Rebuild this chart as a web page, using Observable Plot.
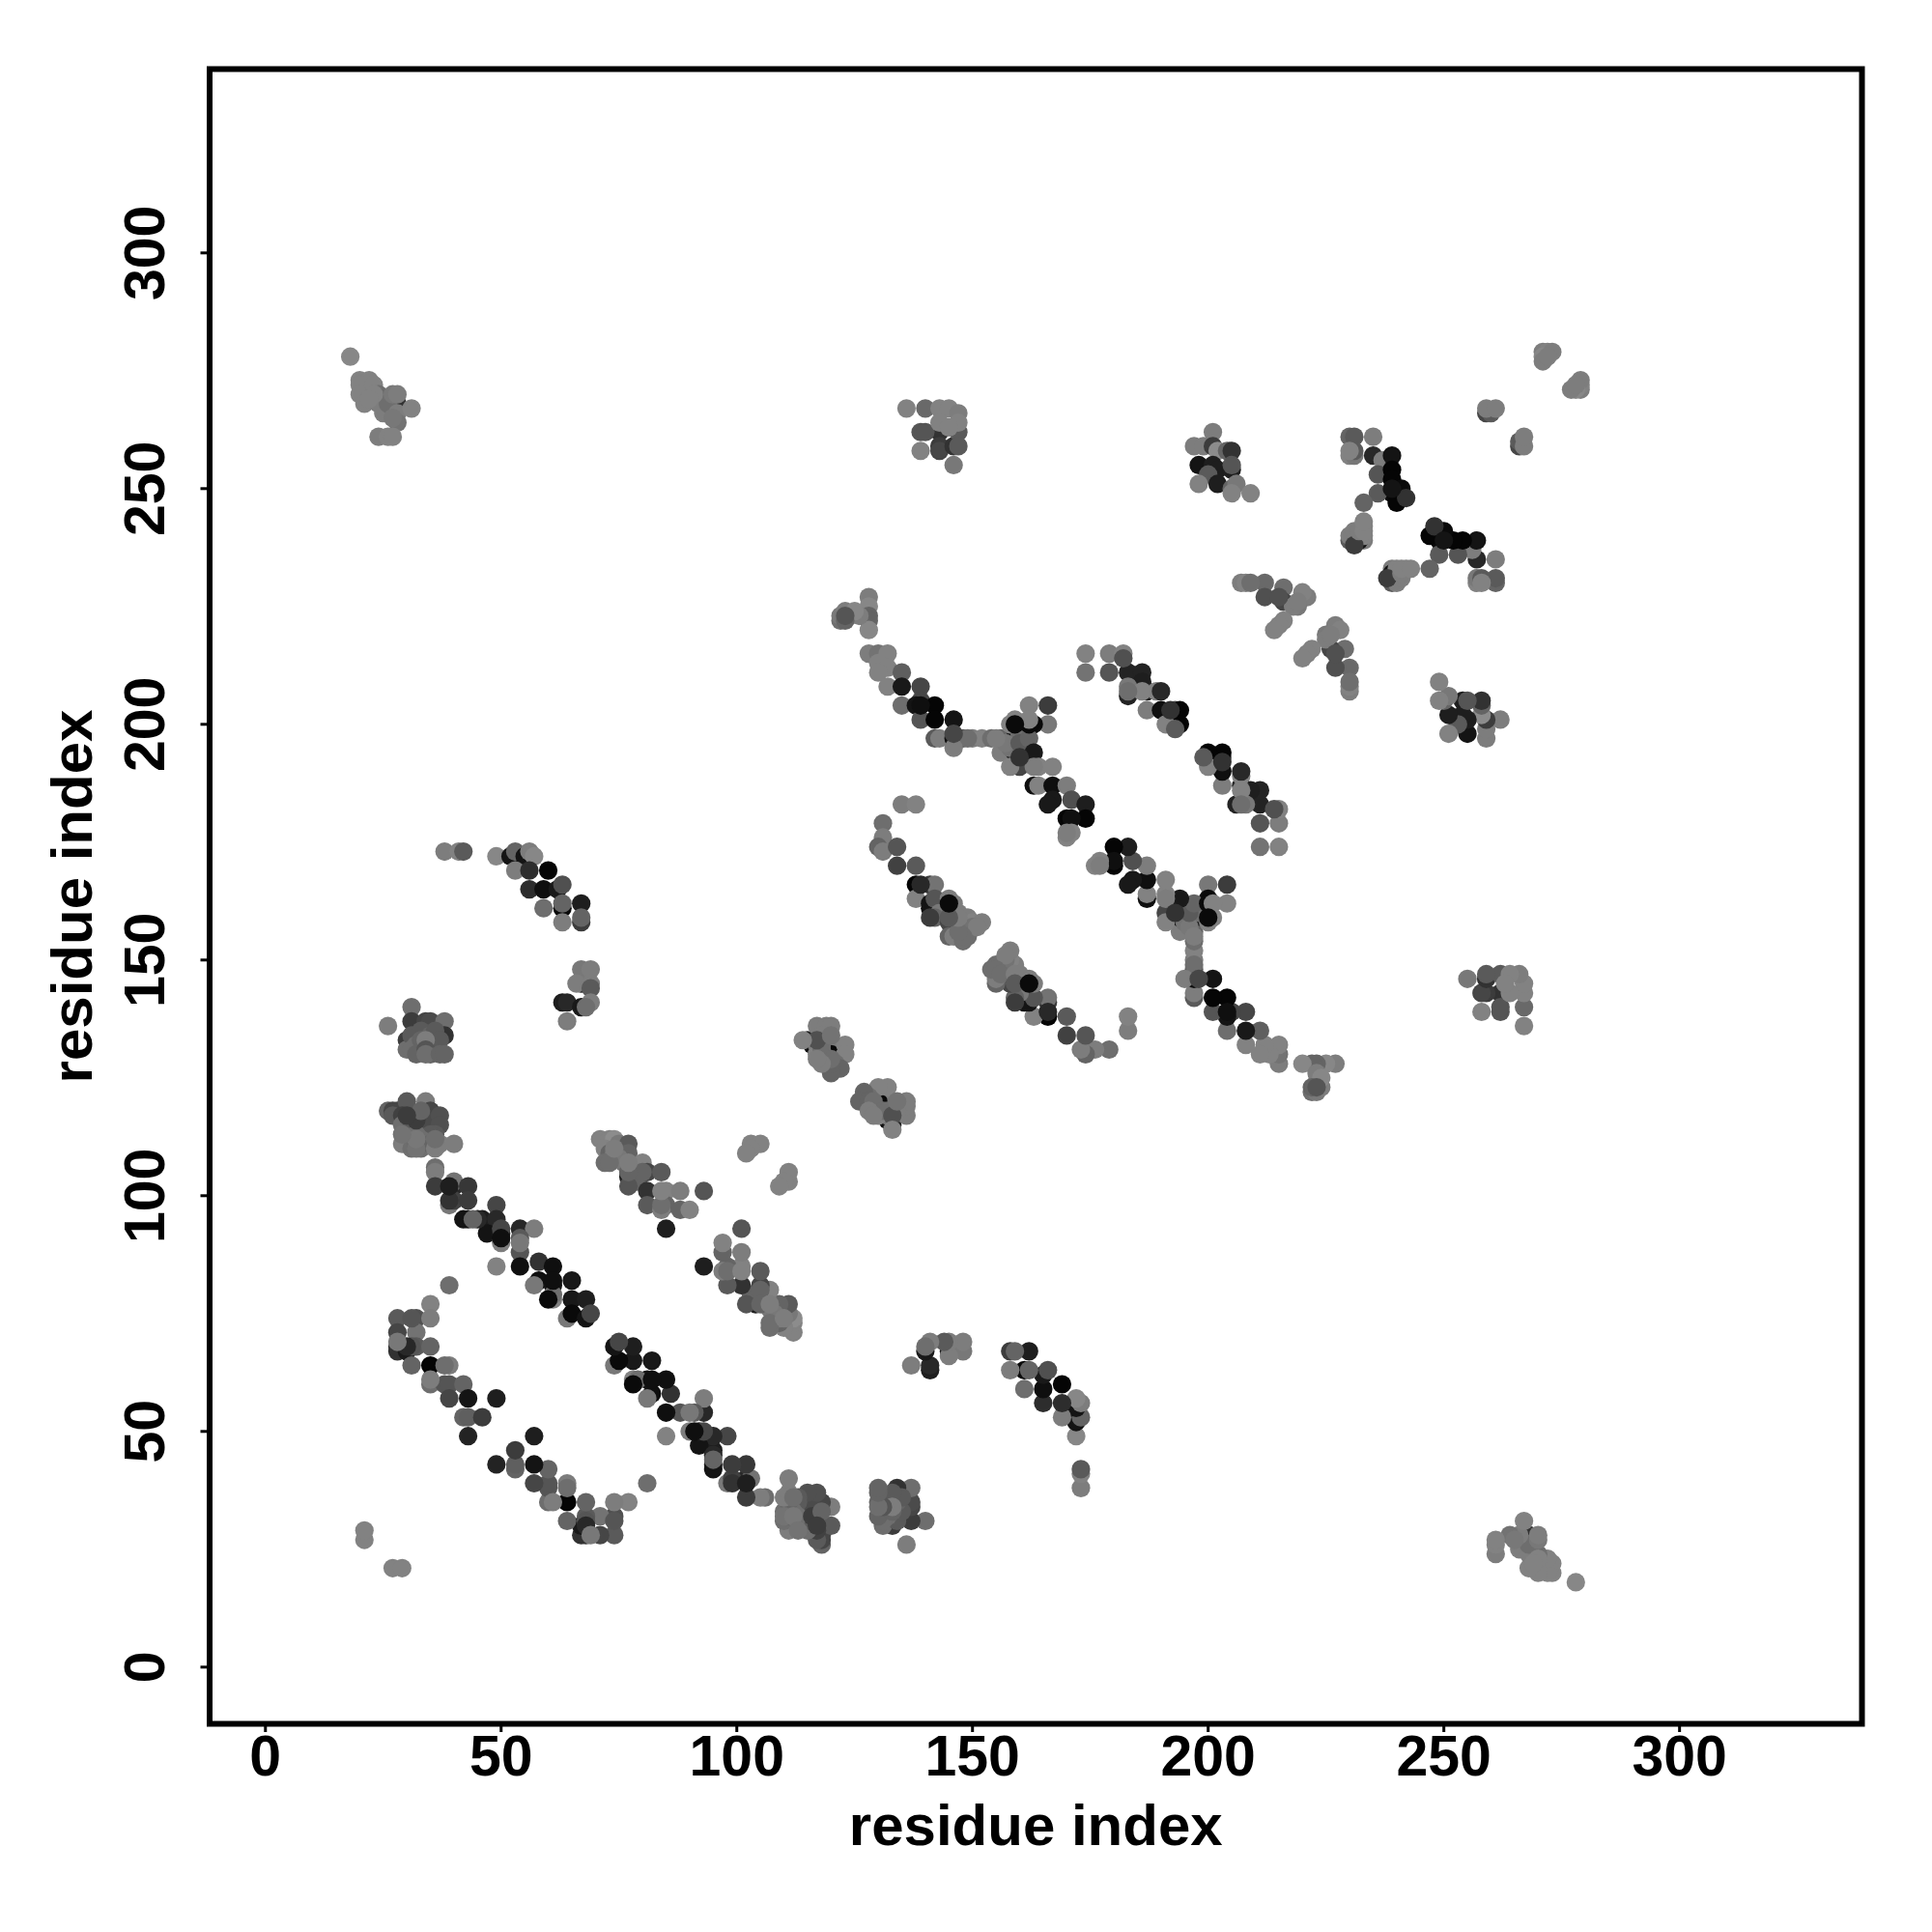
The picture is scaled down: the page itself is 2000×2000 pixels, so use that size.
<!DOCTYPE html>
<html><head><meta charset="utf-8">
<script src="https://cdn.jsdelivr.net/npm/d3@7"></script>
<script src="https://cdn.jsdelivr.net/npm/@observablehq/plot@0.6"></script>
<style>html,body{margin:0;padding:0;background:#fff}svg{display:block}</style>
</head><body><div id="chart"></div>
<script>
// Contacts: [residue i, residue j, grey level 0-255]. The map is symmetric.
const clusterA = [[18,278,135],[20,273,130],[22,273,130],[20,272,130],[20,270,130],[21,268,130],[26,267,50],[28,268,50],[23,272,130],[24,270,110],[25,269,105],[25,266,125],[24,268,125],[26,268,110],[27,270,120],[28,270,125],[28,266,125],[28,264,115],[27,265,120],[24,261,125],[26,261,130],[27,261,130],[31,267,130],[23,270,130],[22,269,130],[21,27,130],[21,29,130]];
const clusterB = [[143,262,50],[143,259,60],[143,258,70],[146,259,50],[139,262,85],[140,262,85],[136,267,130],[140,267,105],[143,267,130],[145,267,130],[147,266,125],[143,264,130],[147,262,90],[147,264,130],[145,263,130],[139,258,130],[147,259,90],[146,255,120]];
const clusterC = [[201,262,125],[197,259,125],[199,259,125],[201,259,60],[202,258,140],[204,258,100],[205,258,50],[198,255,20],[201,255,30],[202,254,30],[205,254,30],[205,255,85],[200,253,90],[198,251,130],[202,251,30],[205,250,100],[206,251,120],[205,249,130],[209,249,130]];
const clusterD = [[230,261,90],[231,261,90],[235,261,125],[230,257,110],[231,257,120],[231,258,90],[235,257,60],[237,256,125],[239,257,30],[236,253,90],[239,254,5],[239,252,5],[239,249,10],[241,250,20],[240,247,15],[242,248,60],[236,249,120],[233,247,105]];
const clusterE = [[231,239,15],[230,239,90],[233,239,20],[232,239,110],[231,240,125],[230,240,125],[232,240,125],[233,240,130],[231,241,125],[233,242,130]];
const clusterF = [[247,240,5],[248,242,50],[250,241,10],[250,239,20],[254,239,5],[257,239,20],[249,236,90],[253,236,85],[257,235,40],[261,235,125],[247,233,100],[257,230,130],[258,230,130],[261,230,100]];
const clusterH = [[239,232,20],[238,231,60],[240,231,80],[239,233,125],[240,233,130],[241,232,125],[241,233,130],[243,233,130]];
const clusterI = [[271,279,130],[272,279,130],[273,279,130],[271,278,135],[271,277,130],[279,273,125],[278,272,125],[277,271,125],[279,271,125],[259,266,120],[260,266,70],[259,267,125],[261,267,125],[266,259,70],[266,260,90],[267,259,125],[267,261,125]];
const clusterJ = [[207,230,125],[208,230,125],[212,230,115],[216,229,110],[212,227,80],[216,226,70],[220,227,130],[221,227,90],[219,225,120],[218,225,125],[216,222,130],[215,221,130],[214,220,130],[227,221,125],[228,220,130],[225,218,125],[226,219,125],[227,215,80],[229,216,110],[227,212,80],[230,212,105],[230,209,110],[230,208,130],[222,216,130],[221,215,130],[220,214,130]];
const clusterK = [[128,227,130],[128,225,130],[128,223,100],[128,222,90],[128,220,130],[122,222,110],[122,223,120],[123,224,130],[124,223,130],[126,223,125]];
const chainUpper = [[128,215,130],[130,215,110],[132,215,130],[130,213,130],[132,212,130],[130,211,120],[135,211,100],[132,208,125],[135,208,25],[139,208,75],[139,205,75],[135,204,110],[138,204,20],[142,204,5],[139,201,85],[142,201,5],[146,201,25],[146,196,10],[142,197,90],[143,197,125],[146,197,130],[148,197,125],[150,197,125],[152,197,135],[154,197,130],[156,197,125],[156,194,130],[159,199,20],[159,197,60],[159,194,25],[160,194,50],[159,201,130],[158,200,130],[160,198,110],[158,195,115],[157,196,120],[160,196,90],[160,191,70],[158,191,130],[162,204,130],[166,204,70],[166,200,130],[163,200,10],[162,197,90],[163,194,20],[164,191,130],[167,191,130],[163,187,20],[164,187,130],[167,187,15],[170,187,120],[167,184,25],[166,183,100],[171,184,70],[174,183,35],[170,180,5],[174,180,5],[171,180,15],[170,176,125],[171,177,130]];
const chainOuter = [[174,215,130],[174,211,120],[179,215,120],[182,215,135],[179,211,85],[183,211,40],[186,211,25],[186,209,30],[183,206,70],[183,208,120],[187,207,30],[189,207,130],[190,207,40],[187,203,120],[190,203,15],[193,203,80],[194,203,5],[194,200,5],[191,200,130],[193,199,60],[199,193,90],[200,194,5],[203,194,5],[200,191,130],[203,192,50],[207,190,40],[203,187,125],[211,186,35],[207,186,130],[206,183,35],[207,183,110],[211,183,35],[214,182,80],[215,182,130],[211,179,85],[215,179,125],[211,174,115],[215,174,130]];
const chainInner = [[135,183,130],[138,183,125],[131,179,110],[131,176,130],[130,174,125],[131,173,80],[134,174,90],[134,170,70],[138,170,85],[138,166,10],[141,166,60],[142,166,90],[138,163,130],[141,161,15],[145,161,15],[141,162,70],[142,163,125],[146,162,125],[145,163,125],[143,160,120],[147,160,125],[142,159,100],[141,159,70],[145,158,70],[149,159,135],[150,158,130],[152,158,125],[148,157,125],[150,157,115],[145,155,120],[146,155,125],[149,155,110],[148,154,110],[158,152,125],[157,151,125],[159,149,125],[155,148,110],[156,147,110],[159,147,125],[155,145,100],[159,145,90],[162,145,10],[163,145,125],[162,141,20],[159,141,60],[163,142,85],[166,142,115],[163,138,130],[166,139,40],[166,138,5],[170,138,90],[170,134,65],[174,134,85],[174,130,100],[173,131,125],[176,131,125],[179,131,110],[183,138,130],[183,135,125]];
const chainLower = [[176,170,130],[177,170,125],[180,170,5],[180,174,5],[183,174,30],[184,171,80],[187,170,125],[183,166,25],[187,167,15],[191,167,130],[187,163,15],[187,164,130],[191,163,125],[191,160,70],[194,163,25],[194,160,30],[193,160,50],[197,162,100],[200,162,10],[200,166,120],[204,166,60],[201,162,130],[204,162,130],[200,159,10],[201,159,130],[197,159,20],[194,156,125],[197,156,100],[197,155,125],[197,154,110],[197,152,130],[197,150,125],[197,149,110],[197,148,90],[195,146,125],[197,146,15],[198,146,70],[201,146,20],[197,142,90],[201,142,5],[204,142,5],[201,139,85],[204,139,15],[205,139,70],[208,139,70],[204,135,110],[208,135,25],[211,135,95],[208,132,130],[212,132,130],[215,132,130],[211,130,130],[215,130,115],[215,128,125],[220,128,135],[222,128,100],[225,128,135],[227,128,125],[224,125,135],[222,123,100],[223,123,85],[224,123,125]];
const clusterN = [[116,132,15],[119,131,10],[115,133,130],[117,136,125],[119,136,125],[120,136,125],[117,132,120],[119,133,125],[120,132,125],[118,134,125],[121,131,125],[122,130,125],[118,130,125],[119,129,125],[117,130,130],[120,130,110],[123,132,125],[123,130,125],[121,128,110],[120,127,100],[122,127,100]];
const clusterO = [[130,120,10],[131,119,60],[133,115,30],[126,120,100],[127,120,95],[128,120,100],[129,120,110],[131,121,125],[132,120,125],[131,118,110],[132,118,110],[128,118,125],[129,117,125],[130,123,130],[132,123,130],[130,117,130],[133,117,80],[134,120,115],[136,120,125],[136,117,125],[133,114,130]];
const clusterM = [[38,173,125],[41,173,130],[42,173,90],[49,172,135],[52,172,20],[53,173,100],[55,172,20],[56,173,125],[57,172,135],[53,169,125],[56,169,45],[60,169,5],[56,165,45],[59,165,15],[62,165,25],[63,166,80],[63,161,10],[63,162,100],[67,162,30],[59,161,110],[63,158,125],[67,158,60],[67,159,100]];
const clusterP = [[67,145,25],[63,141,30],[64,141,40],[67,140,25],[67,148,120],[69,148,125],[66,145,125],[69,145,125],[69,144,90],[69,141,125],[68,140,110],[64,137,125]];
const clusterQ = [[34,132,15],[26,136,125],[31,140,110],[31,137,60],[34,137,70],[35,137,75],[38,137,110],[30,133,60],[30,131,110],[38,134,50],[31,134,90],[32,132,110],[33,135,90],[35,134,100],[36,132,110],[36,135,90],[31,131,110],[32,130,100],[35,130,100],[35,132,100],[37,133,90],[33,133,100],[34,133,125],[34,131,85],[34,130,110],[37,130,100],[38,130,100]];
const clusterR = [[33,115,15],[33,114,30],[26,118,125],[27,118,80],[28,118,70],[27,117,90],[30,120,85],[34,120,125],[29,117,65],[32,117,75],[35,118,70],[34,116,75],[37,117,70],[37,115,85],[29,115,110],[31,115,100],[30,113,90],[36,113,90],[35,113,90],[32,113,110],[33,112,110],[30,112,110],[29,111,125],[31,110,110],[32,111,105],[33,110,110],[35,111,100],[36,110,60],[37,111,125],[40,111,125]];
const chainMain = [[36,106,110],[36,105,130],[36,102,50],[40,102,40],[40,103,120],[43,102,65],[39,98,120],[40,99,65],[43,99,70],[43,95,30],[49,98,65],[46,95,30],[49,95,40],[47,92,20],[50,92,30],[50,93,80],[50,90,110],[54,93,50],[57,93,125],[54,91,120],[54,88,100],[49,85,135],[54,85,20],[58,86,55],[61,85,20],[58,82,15],[57,81,120],[61,81,20],[65,82,25],[61,78,10],[61,79,110],[65,78,25],[68,78,30],[64,74,120],[65,75,10],[68,74,20],[69,75,70],[78,61,130],[78,60,10],[82,61,15],[85,61,15],[82,58,15],[81,57,120],[86,58,50],[85,54,15],[88,54,85],[90,54,120],[91,54,90],[93,57,125],[93,54,40],[85,49,130],[90,50,125],[91,50,15],[93,50,70],[95,49,40],[98,49,70],[95,45,40],[95,42,20],[95,44,100],[99,43,60],[102,43,55],[98,39,120],[99,39,50],[102,39,30],[103,40,115],[102,36,60],[105,36,125],[106,36,110]];
const clusterT = [[114,33,10],[111,40,125],[110,36,125],[112,36,110],[115,37,80],[117,37,80],[120,34,125],[110,32,115],[112,32,120],[116,32,60],[118,33,100],[120,30,90],[117,30,60],[111,29,125],[113,29,115],[118,27,70],[118,26,100]];
const arcLower = [[39,81,95],[35,77,125],[28,74,90],[32,74,80],[35,74,125],[28,71,85],[32,71,120],[28,67,50],[28,68,130],[30,67,25],[32,68,90],[35,68,115],[31,64,100],[35,64,5],[39,64,125],[35,60,125],[38,60,85],[39,60,75],[42,60,110],[39,57,70],[43,57,30],[49,57,30],[42,53,120],[43,53,95],[46,53,70],[43,49,40],[57,49,30],[53,46,60],[49,43,35],[53,42,100],[57,43,20],[60,42,100],[57,39,70],[60,39,85],[64,39,125],[64,38,110],[60,35,110],[61,35,125],[64,35,5],[68,35,100],[74,35,125],[77,35,130],[81,39,110],[64,31,100],[68,31,85],[71,32,115],[74,31,85],[68,30,40],[68,28,50],[69,28,120],[71,28,70],[74,28,90]];
const clusterU = [[71,112,135],[73,112,130],[74,112,140],[72,110,130],[75,111,120],[77,111,100],[77,109,100],[73,109,110],[74,109,125],[75,108,120],[72,107,110],[76,107,120],[77,104,30],[79,103,100],[77,106,120],[80,107,130],[81,105,70],[84,105,90],[77,102,90],[81,101,50],[85,101,130],[88,101,130],[93,101,85],[81,98,90],[85,98,100],[84,97,130],[88,97,90],[90,97,130],[85,93,30],[103,111,130],[105,111,130],[103,110,130],[102,109,130]];
const clusterV = [[97,88,100],[98,84,110],[97,84,125],[98,81,90],[101,88,125],[101,84,130],[101,81,50],[105,84,90],[102,77,85],[105,80,100],[107,80,130],[105,77,100],[107,77,125],[109,77,100],[111,77,90],[107,73,110],[109,73,100],[110,74,125],[112,73,130],[112,71,130]];

const clusters = [clusterA, clusterB, clusterC, clusterD, clusterE, clusterF, clusterH, clusterI, clusterJ, clusterK, chainUpper, chainOuter, chainInner, chainLower, clusterN, clusterO, clusterM, clusterP, clusterQ, clusterR, chainMain, clusterT, arcLower, clusterU, clusterV];
const xTicks = [0, 50, 100, 150, 200, 250, 300];
const yTicks = [0, 50, 100, 150, 200, 250, 300];
const axisTitle = "residue index";

// Each contact (i, j) is drawn at both (i, j) and (j, i).
const contacts = new Map();
for (const c of clusters) for (const [a, b, g] of c) contacts.set(Math.min(a, b) + "," + Math.max(a, b), {a, b, g});
const rows = [];
for (const {a, b, g} of contacts.values()) {
  const fill = `rgb(${g},${g},${g})`;
  rows.push({x: a, y: b, fill}, {x: b, y: a, fill});
}

const font = "'Liberation Sans', Arial, Helvetica, sans-serif";
const chart = Plot.plot({
  width: 2000, height: 2000,
  marginLeft: 216.5, marginRight: 73, marginTop: 71, marginBottom: 216,
  style: {fontFamily: font, background: "#fff"},
  x: {domain: [-11.84, 338.7]},
  y: {domain: [-12.03, 339]},
  color: {type: "identity"},
  marks: [
    Plot.dot(rows, {x: "x", y: "y", r: 9.6, fill: "fill", stroke: "none"}),
    Plot.frame({stroke: "#000", strokeWidth: 6}),
    Plot.axisX({ticks: xTicks, tickSize: 9, tickPadding: 3, strokeWidth: 3, stroke: "#000", fill: "#000", fontSize: 59, fontWeight: "bold", label: null, tickFormat: d => String(d)}),
    Plot.axisY({ticks: yTicks, tickSize: 9, tickPadding: 38, strokeWidth: 3, stroke: "#000", fill: "#000", fontSize: 59, fontWeight: "bold", label: null, tickRotate: -90, textAnchor: "middle", tickFormat: d => String(d)}),
    Plot.text([axisTitle], {frameAnchor: "bottom", dy: 125, fontSize: 60, fontWeight: "bold", fill: "#000", lineAnchor: "bottom"}),
    Plot.text([axisTitle], {frameAnchor: "left", dx: -141, rotate: -90, textAnchor: "middle", fontSize: 60, fontWeight: "bold", fill: "#000"})
  ]
});
document.getElementById("chart").append(chart);
</script></body></html>
